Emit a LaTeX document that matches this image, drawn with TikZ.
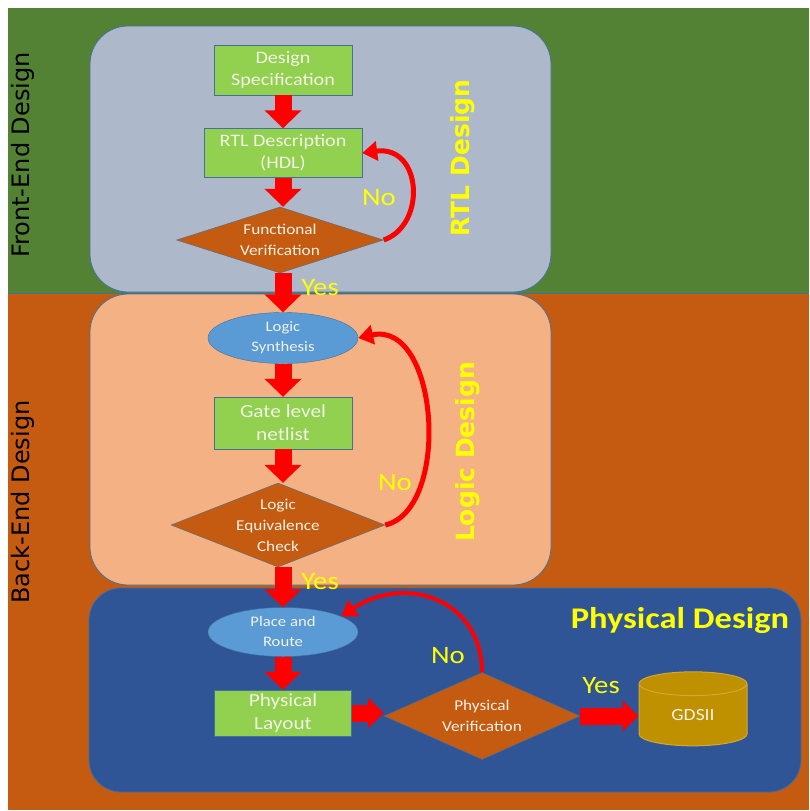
\documentclass[tikz,border=0pt]{standalone}
\usepackage{fontspec}
\setmainfont{Carlito}[FakeStretch=1.15]
\newfontfamily\bandfont{DejaVu Sans}
\usetikzlibrary{shapes.geometric}
\usetikzlibrary{arrows.meta}

\definecolor{frontgreen}{HTML}{548235}
\definecolor{backorange}{HTML}{C55A11}
\definecolor{rtlgrey}{HTML}{ADB9CA}
\definecolor{logicpeach}{HTML}{F4B183}
\definecolor{physblue}{HTML}{2F5597}
\definecolor{boxgreen}{HTML}{92D050}
\definecolor{dmdorange}{HTML}{C55A11}
\definecolor{ellblue}{HTML}{5B9BD5}
\definecolor{boxedge}{HTML}{41719C}
\definecolor{arrred}{HTML}{FF0000}
\definecolor{lblyellow}{HTML}{FFFF00}
\definecolor{nodetext}{HTML}{F2F2E6}
\definecolor{cylgold}{HTML}{BF9000}
\definecolor{cyledge}{HTML}{D4A830}

\tikzset{
  stagebox/.style={draw=boxedge, line width=0.8pt, rounded corners=38pt},
  procbox/.style={rectangle, fill=boxgreen, draw=boxedge, text=nodetext, align=center, inner sep=0pt, font=\fontsize{17.5}{22}\selectfont},
  checkbox/.style={diamond, shape aspect=3, fill=dmdorange, draw=boxedge, text=nodetext, align=center, inner sep=0pt, font=\fontsize{15}{21}\selectfont},
  toolbox/.style={ellipse, fill=ellblue, draw=boxedge, text=nodetext, align=center, inner sep=0pt, font=\fontsize{14.5}{20}\selectfont},
  blkarrow/.style={draw=arrred, line width=17pt, -{Triangle[width=36pt,length=18pt]}},
  backarrow/.style={draw=arrred, line width=5pt, -{Triangle[width=19pt,length=15pt]}},
  yesno/.style={text=lblyellow, font=\fontsize{25}{25}\selectfont},
  bandlbl/.style={rotate=90, text=black, font=\bandfont\fontsize{24}{24}\selectfont},
  stagelbl/.style={rotate=90, text=lblyellow, font=\bandfont\bfseries\fontsize{25}{25}\selectfont}
}

\begin{document}
\begin{tikzpicture}[x=1pt,y=-1pt]
\useasboundingbox (0,0) rectangle (809,811);
\fill[white] (0,0) rectangle (809,811);
\fill[frontgreen] (8,8) rectangle (809,293);
\fill[backorange] (8,294) rectangle (809,810);
\draw[boxedge, line width=1.5pt] (8,293.5) -- (809,293.5);

\draw[stagebox, fill=rtlgrey] (90,26) rectangle (551,292);
\draw[stagebox, fill=logicpeach] (90,294) rectangle (551,585);
\draw[stagebox, fill=physblue, rounded corners=32pt] (89,588) rectangle (801,792);

\node[bandlbl] (fetitle) at (23,155) {Front-End Design};
\node[bandlbl] (betitle) at (23,502) {Back-End Design};
\node[stagelbl] (rtltitle) at (463,158) {RTL Design};
\node[stagelbl] (logictitle) at (468,452) {Logic Design};
\node[text=lblyellow, font=\bfseries\fontsize{30}{30}\selectfont] (phystitle) at (680,621) {Physical Design};

\node[procbox, minimum width=138pt, minimum height=50pt] (spec) at (283,70) {Design\\Specification};
\node[procbox, minimum width=158pt, minimum height=49pt] (rtl) at (283,153) {RTL Description\\(HDL)};
\node[checkbox, minimum width=207pt, minimum height=66pt] (fv) at (280,240) {Functional\\Verification};
\node[toolbox, minimum width=150pt, minimum height=51pt] (ls) at (283,338) {Logic\\Synthesis};
\node[procbox, minimum width=138pt, minimum height=52pt, font=\fontsize{18.5}{23}\selectfont] (gln) at (283,423) {Gate level\\netlist};
\node[checkbox, shape aspect=2.5, inner sep=-6pt, minimum width=214pt, minimum height=84pt] (lec) at (278,525) {Logic\\Equivalence\\Check};
\node[toolbox, minimum width=150pt, minimum height=49pt] (pr) at (283,632) {Place and\\Route};
\node[procbox, minimum width=137pt, minimum height=46pt, font=\fontsize{18.5}{23}\selectfont] (pl) at (283,713) {Physical\\Layout};
\node[checkbox, minimum width=196pt, minimum height=87pt] (pv) at (482,716) {Physical\\Verification};
\node[cylinder, shape border rotate=90, aspect=0.55, fill=cylgold, draw=cyledge, line width=1pt, text=nodetext, minimum width=108pt, minimum height=74pt, inner sep=0pt, font=\fontsize{17}{20}\selectfont] (gds) at (693,715) {GDSII};

\draw[blkarrow] (spec.south) -- (rtl.north);
\draw[blkarrow] (rtl.south) -- (rtl.south |- fv.north);
\draw[blkarrow] (ls.north |- fv.south) -- (ls.north);
\draw[blkarrow] (ls.south) -- (gln.north);
\draw[blkarrow] (gln.south) -- (gln.south |- lec.north);
\draw[blkarrow] (pr.north |- lec.south) -- (pr.north);
\draw[blkarrow] (pr.south) -- (pl.north);
\draw[blkarrow, -{Triangle[width=30pt,length=16pt]}] (pl.east) -- (pl.east -| pv.west);
\draw[blkarrow, -{Triangle[width=30pt,length=16pt]}] (pv.east) -- (pv.east -| gds.west);

\draw[backarrow] (fv.east) .. controls +(43,-15) and +(60,-8) .. (rtl.east);
\draw[backarrow] (lec.east) .. controls +(66,-15) and +(81,-18) .. (ls.east);
\draw[backarrow, line width=4pt] (pv.north) .. controls +(0,-73) and +(64,-43) .. (pr.15);

\node[yesno] (yes1) at (320,288) {Yes};
\node[yesno] (yes2) at (320,582) {Yes};
\node[yesno] (yes3) at (601,686) {Yes};
\node[yesno] (no1) at (379,198) {No};
\node[yesno] (no2) at (395,483) {No};
\node[yesno] (no3) at (448,656) {No};
\end{tikzpicture}
\end{document}
